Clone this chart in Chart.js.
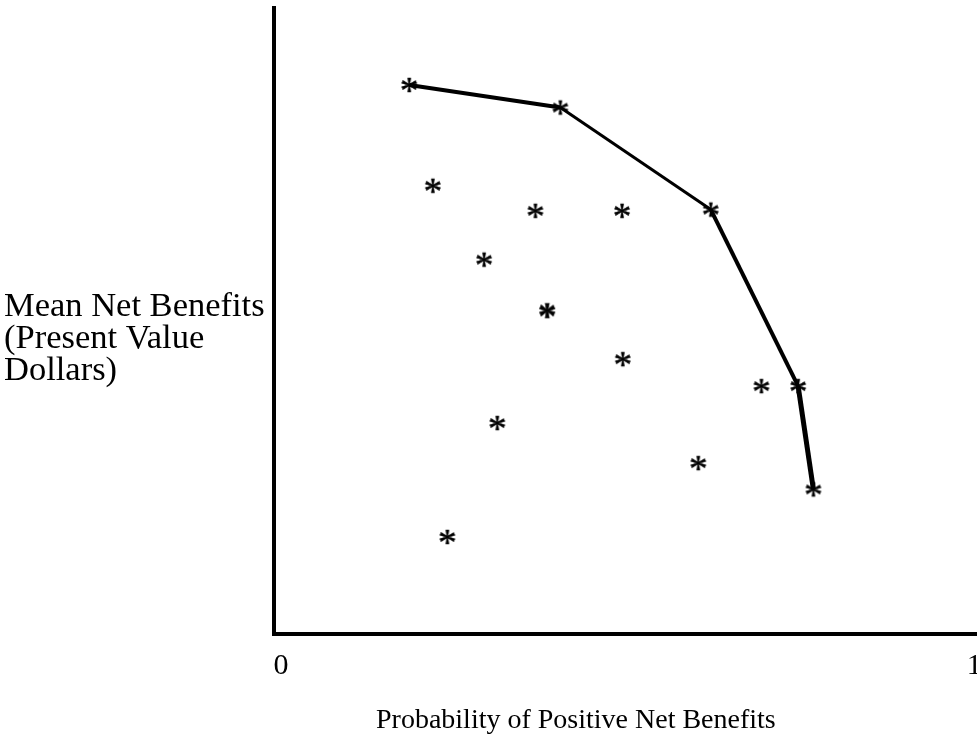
<!DOCTYPE html>
<html>
<head>
<meta charset="utf-8">
<script src="https://cdn.jsdelivr.net/npm/chart.js@4/dist/chart.umd.min.js"></script>
<style>
  html, body { margin: 0; padding: 0; background: #fff; overflow: hidden; }
  #wrap { width: 977px; height: 738px; overflow: hidden; }
</style>
</head>
<body>
<div id="wrap"><canvas id="chart" width="1003" height="738"></canvas></div>
<script>
// efficient frontier (joined by the line)
var frontierX = [0.185, 0.403, 0.620, 0.746, 0.768]
var frontierY = [8.77, 8.41, 6.78, 3.96, 2.31]

// the other alternatives
var otherX = [0.219, 0.367, 0.492, 0.293, 0.493, 0.693, 0.312, 0.602, 0.240]
var otherY = [7.16, 6.76, 6.76, 5.98, 4.39, 3.96, 3.37, 2.73, 1.55]

// the one printed in bold
var boldX = [0.384]
var boldY = [5.17]

var xTicks = [0, 1]
var xTickLabels = ["0", "1"]

var xTitle = "Probability of Positive Net Benefits"
var yTitle = ["Mean Net Benefits", "(Present Value", "Dollars)"]

var serif = '"Liberation Serif", "Times New Roman", serif'
var frontierWidths = [4, 3, 4, 5]

function toPoints(xs, ys) {
    return xs.map(function (x, i) { return {x: x, y: ys[i]} })
}

function asterisk(weight) {
    let c = document.createElement("canvas")
    c.width = 30
    c.height = 30
    let g = c.getContext("2d")
    g.font = weight + " 37px " + serif
    g.fillStyle = "#000"
    g.strokeStyle = "#000"
    g.lineWidth = 0.6
    g.textAlign = "center"
    let m = g.measureText("*")
    let base = 15 + (m.actualBoundingBoxAscent - m.actualBoundingBoxDescent) / 2
    g.fillText("*", 15, base)
    g.strokeText("*", 15, base)
    return c
}

var plainStar = asterisk("normal")
var boldStar = asterisk("bold")

var titles = {
    id: "titles",
    afterDraw: function (chart) {
        let ctx = chart.ctx
        ctx.save()
        ctx.fillStyle = "#000"
        ctx.textAlign = "left"
        ctx.textBaseline = "alphabetic"
        ctx.font = "34.5px " + serif
        yTitle.forEach(function (line, i) {
            ctx.fillText(line, 4, 316 + i * 32)
        })
        ctx.font = "28px " + serif
        ctx.fillText(xTitle, 376, 728)
        ctx.restore()
    }
}

new Chart(document.getElementById("chart"), {
    type: "scatter",
    data: {
        datasets: [{
            data: toPoints(frontierX, frontierY),
            showLine: true,
            borderColor: "#000",
            borderWidth: 3,
            pointStyle: plainStar,
            pointRadius: 5,
            segment: {
                borderWidth: function (ctx) { return frontierWidths[ctx.p0DataIndex] }
            }
        }, {
            data: toPoints(otherX, otherY),
            pointStyle: plainStar,
            pointRadius: 5
        }, {
            data: toPoints(boldX, boldY),
            pointStyle: boldStar,
            pointRadius: 5
        }]
    },
    options: {
        responsive: false,
        animation: false,
        layout: {padding: {top: 7, left: 0, right: 0, bottom: 0}},
        plugins: {legend: {display: false}, tooltip: {enabled: false}},
        scales: {
            x: {
                type: "linear",
                min: -0.0101,
                max: 1.03,
                grid: {display: false},
                border: {display: true, color: "#000", width: 4},
                afterBuildTicks: function (scale) {
                    scale.ticks = xTicks.map(function (v) { return {value: v} })
                },
                afterFit: function (scale) { scale.height = 104 },
                ticks: {
                    color: "#000",
                    font: {family: serif, size: 30},
                    padding: 6,
                    maxRotation: 0,
                    callback: function (v, i) { return xTickLabels[i] }
                }
            },
            y: {
                min: 0,
                max: 10,
                grid: {display: false},
                border: {display: true, color: "#000", width: 4},
                ticks: {display: false},
                afterFit: function (scale) { scale.width = 274 }
            }
        }
    },
    plugins: [titles]
})
</script>
</body>
</html>
